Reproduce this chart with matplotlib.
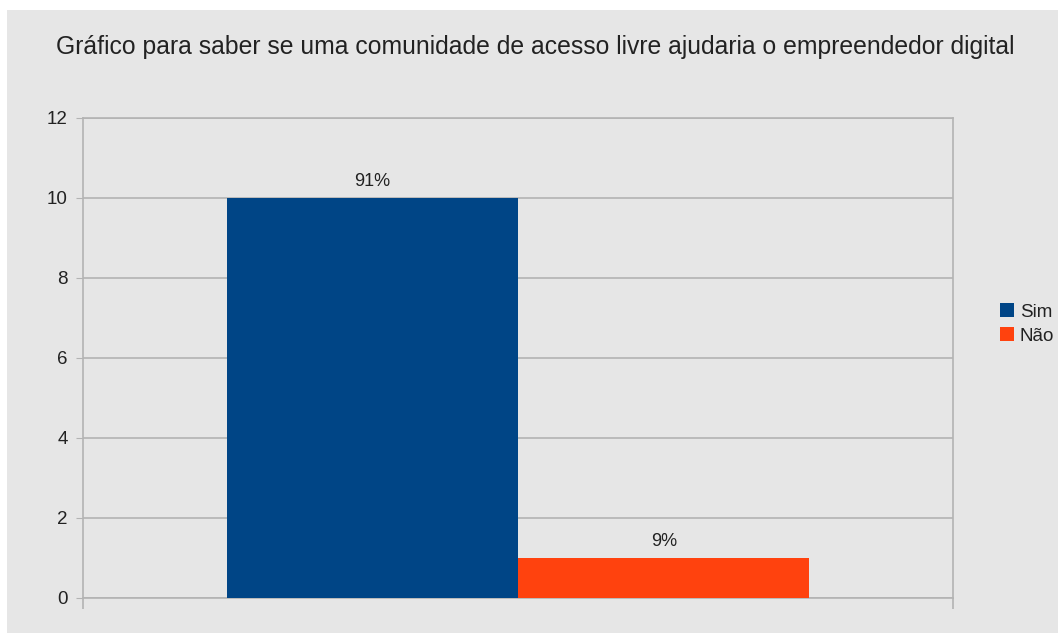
import numpy as np
import matplotlib
matplotlib.use("Agg")
import matplotlib.pyplot as plt
from matplotlib.patches import Rectangle

plt.rcParams.update({"font.family": ["Liberation Sans", "DejaVu Sans"],
                     "text.color": "#222222"})

TITLE = "Gráfico para saber se uma comunidade de acesso livre ajudaria o empreendedor digital"
series = ["Sim", "Não"]
values = [10, 1]
labels = ["91%", "9%"]
colors = ["#004586", "#ff420e"]
yticks = [0, 2, 4, 6, 8, 10, 12]

BG = "#e6e6e6"
GRID = "#b3b3b3"

fig = plt.figure(figsize=(10.58, 6.33), dpi=100, facecolor="white")
fig.patches.append(Rectangle((7 / 1058, 0), 1, 1 - 10 / 633,
                             transform=fig.transFigure, facecolor=BG,
                             edgecolor="none", zorder=-10))
ax = fig.add_axes([83 / 1058, 1 - 598 / 633, 870 / 1058, 480 / 633])
ax.set_facecolor(BG)

width = 0.335
offsets = (np.arange(len(series)) - (len(series) - 1) / 2) * width
for off, v, lab, c, name in zip(offsets, values, labels, colors, series):
    ax.bar(off, v, width=width, color=c, label=name, zorder=3)
    ax.text(off, v + 0.2, lab, ha="center", va="bottom", fontsize=13)

ax.set_xlim(-0.5, 0.5)
ax.set_ylim(0, 12)
ax.set_yticks(yticks)
ax.set_xticks([-0.5, 0.5])
ax.set_xticklabels([])
ax.tick_params(axis="y", length=5, color=GRID, labelsize=13.5, pad=6,
               labelcolor="#222222")
ax.tick_params(axis="x", length=8, color=GRID, width=1.2)
ax.grid(axis="y", color=GRID, lw=1.2, zorder=0)
for s in ax.spines.values():
    s.set_color(GRID)
    s.set_linewidth(1.2)

fig.text(535 / 1058, 1 - 47 / 633, TITLE, ha="center", va="center",
         fontsize=17.8)

ax.legend(loc="center left", bbox_to_anchor=(1000 / 1058, 1 - 324 / 633),
          bbox_transform=fig.transFigure, frameon=False, fontsize=13.5,
          handlelength=0.75, handleheight=0.75, handletextpad=0.3,
          labelspacing=0.35, borderpad=0, borderaxespad=0)

fig.savefig("out.png", dpi=100, facecolor="white")
